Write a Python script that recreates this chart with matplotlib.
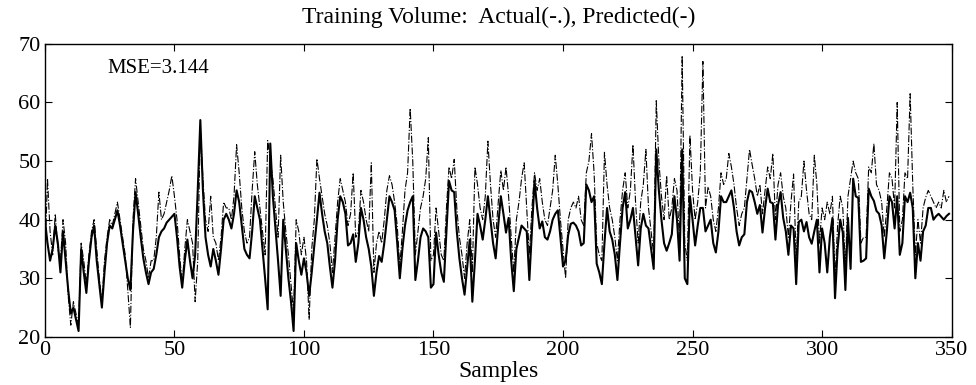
import numpy as np
import matplotlib.pyplot as plt

plt.rcParams['font.family'] = ['Liberation Serif', 'DejaVu Serif']

# predicted volume (solid), samples 0..349
predicted = [
    40, 36, 33, 35, 39, 36, 31, 38, 33, 28,
    24, 25, 23, 21, 35, 31, 27.5, 33, 37, 39,
    33, 29, 25, 31, 36, 39, 38.5, 40, 41.6, 39,
    36, 33, 30, 28, 38, 44.7, 41, 37, 33.4, 31,
    29, 31, 31.6, 34, 37, 38, 38.5, 39.5, 40, 40.5,
    41, 37, 32, 28.4, 33, 36.6, 33, 30, 34, 45,
    57, 45, 37, 34, 32, 35, 33, 30.6, 35, 40,
    41, 40, 38.5, 41, 45, 43, 39, 35, 34, 33.4,
    38, 44, 42, 40, 35, 30, 24.7, 53, 44, 38.5,
    33, 27, 40, 35, 30, 26, 21, 36, 33, 30.6,
    33.4, 31, 27, 31, 35.6, 40, 44.6, 41, 38, 36,
    32, 28.4, 33, 40, 44, 43, 41, 35.6, 36, 37.5,
    32.8, 36, 42, 40, 37, 35, 32, 27, 31, 33.8,
    32.8, 36, 40, 44, 43, 41.6, 36, 30, 35, 39,
    41.6, 43, 44, 29.7, 33, 37, 38.5, 38, 37, 28.4,
    29, 37.8, 34, 31, 29.4, 38, 46.6, 45, 44.7, 38,
    33.4, 30, 27.2, 32, 36.6, 26, 33, 41, 39, 36.6,
    40, 44, 40, 36, 33.4, 39, 44, 41, 37.8, 40.3,
    33, 27.8, 35, 37, 39, 38.5, 38, 29.7, 38, 46.6,
    42, 38.5, 39.7, 37, 36.6, 38, 40, 41, 41.6, 37,
    32, 33, 37.4, 39.3, 39.5, 39, 38, 35.6, 36, 46,
    45, 43, 44, 32.5, 31, 29, 36, 42, 38, 36.6,
    34, 29.7, 36, 42, 44.7, 38.5, 40, 42, 37, 32.2,
    38.5, 41, 39, 38.5, 35, 31.6, 52, 45, 40, 36,
    34.7, 36, 37.5, 44, 40, 33, 52, 30, 29, 44,
    40, 35.6, 39, 42, 42, 38, 39, 40, 36, 34.4,
    38, 44, 43, 43, 44, 45, 42, 38, 35.6, 37,
    37.5, 43, 45, 44.7, 43, 41, 42.5, 37.8, 42, 45.3,
    43, 42.8, 36.6, 42.5, 44.7, 40.3, 38, 34, 39, 38.5,
    29, 39.6, 40, 38, 39.6, 37, 35.9, 38, 40, 31,
    38.5, 36, 31, 37, 40.3, 26.6, 35, 40, 37.8, 28,
    40.3, 31.6, 47, 44, 43.7, 32.8, 33, 33.4, 45.3, 44,
    43.2, 41.5, 41, 39, 33.4, 38, 44, 43, 38.5, 44,
    34, 36, 44, 43, 44.6, 42, 30, 36, 33, 38,
    39, 42, 42, 40, 40.6, 41, 40.5, 40, 40.6, 41,
]

# actual volume (dash-dot)
actual = [
    33, 47, 38, 34, 41, 35, 33, 40, 36, 27,
    22, 26, 24, 22, 36, 33, 29, 34, 38, 40,
    35, 30, 26, 33, 37, 40, 39, 41, 43, 40,
    37, 34, 28, 21.6, 40, 47, 43, 39, 35, 33,
    30, 33, 33, 37, 44.7, 40, 41, 43, 45, 47.5,
    44, 40, 34, 29, 35, 40, 38, 36, 26, 33,
    56, 47, 40, 38, 44, 37, 36, 33, 37, 43,
    42, 42, 40, 44, 52.8, 48, 42, 38, 36, 37,
    45, 51.6, 46, 42, 38, 34, 53.5, 50, 47, 42,
    37, 51, 43, 38, 34, 29, 24, 40, 38, 34,
    37, 33, 23, 35, 40, 50.4, 47, 44, 41, 39,
    36, 31, 37, 43, 47, 45, 43, 39, 41, 48,
    37, 38, 45, 43, 40, 38, 49.7, 31, 36, 38,
    36, 40, 45, 47.5, 46, 43, 39, 32, 38, 45,
    48, 59, 50, 34, 38, 42, 44, 47, 54, 33,
    34, 42, 38, 34, 33, 42, 49, 47, 50.3, 42,
    37, 34, 30, 36, 40, 31, 49, 46, 42, 40,
    44, 53.4, 46, 40, 37, 43, 48.4, 45, 49, 44,
    37, 31, 40, 43, 47, 49.7, 42, 34, 42, 48,
    45, 47, 43, 40, 39, 42, 45, 51, 46, 40,
    35, 30, 40, 42, 43, 42, 44, 40, 39, 48,
    50, 54.7, 48, 36, 34, 33, 51.5, 46, 42, 40,
    37, 33, 40, 45, 48, 42, 45, 52.8, 43, 36,
    43, 46, 52, 42, 38, 34, 60.3, 50, 44, 40,
    47.5, 40, 42, 47, 45, 36, 68, 36, 33, 54.4,
    45, 40, 43, 48, 67, 42, 45.6, 44, 40, 38,
    42, 48, 46, 47, 51.3, 49, 46, 42, 39, 41,
    42, 47, 52, 49.4, 47, 44, 46, 41, 45, 49,
    47, 51.3, 40, 46, 48, 44, 42, 37, 43, 47.8,
    33, 43, 44, 50, 45, 41, 40, 51, 46, 36,
    42, 40, 43, 41, 44, 30, 39, 44, 42, 32,
    44, 47, 50, 48, 47, 36, 37, 37, 49, 48,
    53, 46, 45, 43, 37, 42, 48, 47, 42, 60,
    38, 40, 48, 47, 61.5, 46, 34, 40, 36, 42,
    43.8, 45, 44, 43, 42, 43, 42, 45, 43, 44,
]

samples = np.arange(len(predicted))
xticks = [0, 50, 100, 150, 200, 250, 300, 350]
yticks = [20, 30, 40, 50, 60, 70]

fig = plt.figure(figsize=(9.76, 3.85), dpi=100)
ax = fig.add_axes([0.046, 0.125, 0.929, 0.761])

ax.plot(samples, actual, color='black', linestyle='-.', linewidth=0.8)
ax.plot(samples, predicted, color='black', linestyle='-', linewidth=1.5)

ax.set_xlim(0, 350)
ax.set_ylim(20, 70)
ax.set_xticks(xticks)
ax.set_yticks(yticks)
ax.tick_params(direction='in', top=True, right=True, length=5, labelsize=16, pad=3)
for sp in ax.spines.values():
    sp.set_linewidth(1.0)

ax.set_title('Training Volume:  Actual(-.), Predicted(-)', fontsize=17, pad=15)
ax.set_xlabel('Samples', fontsize=17, labelpad=1)
ax.text(24, 65.8, 'MSE=3.144', fontsize=15, va='center')

fig.savefig('out.png', dpi=100)
